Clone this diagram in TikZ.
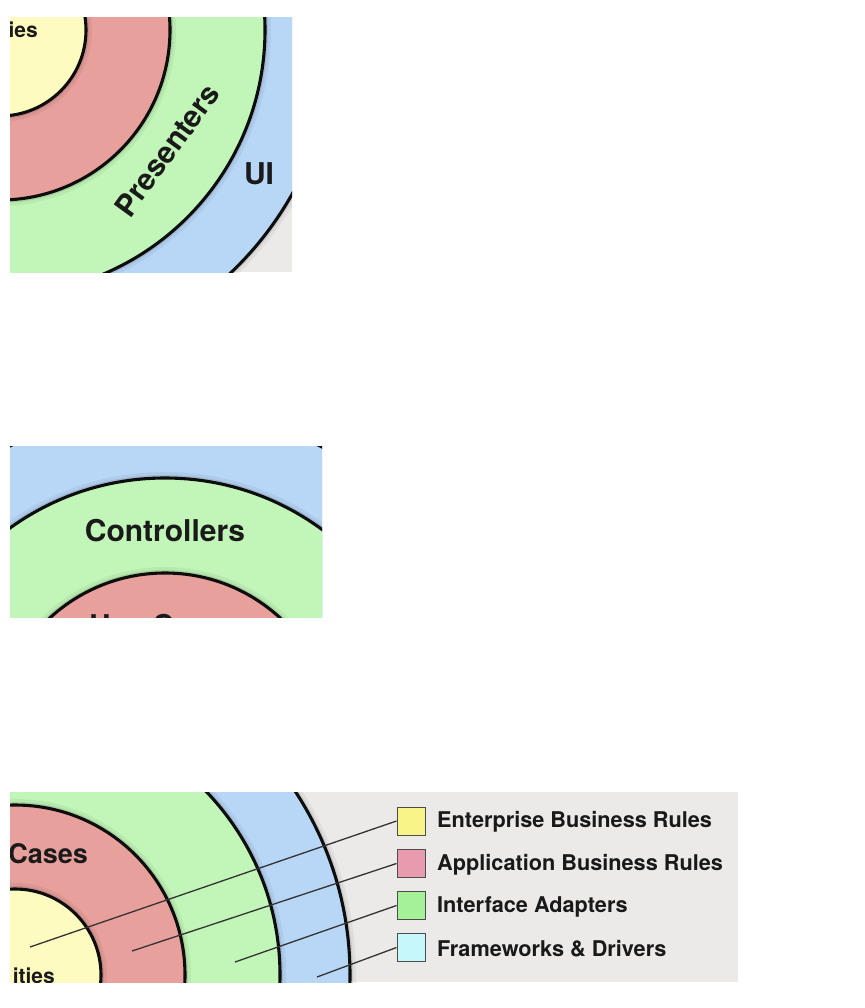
\documentclass[tikz,border=0pt]{standalone}
\usepackage{fontspec}
\setmainfont{TeX Gyre Heros}
\definecolor{blueR}{HTML}{B8D6F6}
\definecolor{greenR}{HTML}{C2F6B8}
\definecolor{redR}{HTML}{E8A09C}
\definecolor{yellowR}{HTML}{FEFBC0}
\definecolor{greyBG}{HTML}{EBEAE9}
\definecolor{txt}{HTML}{1A1A1A}
\definecolor{legY}{HTML}{F8F488}
\definecolor{legR}{HTML}{E89AAE}
\definecolor{legG}{HTML}{A4F198}
\definecolor{legC}{HTML}{C6F8FB}
\newcommand\ringset[2]{%
  \foreach \r/\c in {335/blueR,265/greenR,170/redR,86/yellowR}{%
    \fill[black,opacity=0.05] (#1,#2) circle[radius=\r+6];
    \fill[black,opacity=0.09] (#1,#2) circle[radius=\r+3];
    \fill[\c] (#1,#2) circle[radius=\r];
    \draw[line width=3.1pt,black!95] (#1,#2) circle[radius=\r];
  }}
\tikzset{
  lbl/.style={inner sep=0pt,text=txt,font=\bfseries\fontsize{30}{36}\selectfont},
  slbl/.style={inner sep=0pt,text=txt,font=\bfseries\fontsize{21}{25}\selectfont},
  mlbl/.style={inner sep=0pt,text=txt,font=\bfseries\fontsize{27}{32}\selectfont},
  legbox/.style={draw=black!70,line width=1pt,minimum size=28pt,inner sep=0pt},
  legtxt/.style={inner sep=0pt,anchor=west,text=black!90,font=\bfseries\fontsize{21.7}{26}\selectfont},
  leader/.style={draw=black!80,line width=1.3pt}
}
\begin{document}
\begin{tikzpicture}[x=1pt,y=-1pt]
\useasboundingbox[fill=white] (0,0) rectangle (864,1008);
% ---------- panel 1 ----------
\begin{scope}
  \clip (10,18) rectangle (292,272);
  \fill[greyBG] (10,18) rectangle (292,272);
  \ringset{0}{30}
  \node[slbl,anchor=base east] (ent1) at (38,38) {ies};
  \node[lbl,rotate=54] (pres) at (167,150) {Presenters};
  \node[lbl] (ui) at (259,174) {UI};
\end{scope}
% ---------- panel 2 ----------
\begin{scope}
  \clip (10,446) rectangle (322,617);
  \ringset{165}{743}
  \node[lbl] (ctrl) at (165,531) {Controllers};
  \node[lbl,anchor=base] (uc2) at (165,636) {Use Cases};
\end{scope}
% ---------- panel 3 ----------
\begin{scope}
  \clip (10,792) rectangle (738,982);
  \fill[greyBG] (10,792) rectangle (738,982);
  \ringset{15}{975}
  \node[mlbl,anchor=base east] (uc3) at (88,863) {Cases};
  \node[slbl,anchor=base east] (ent3) at (55,983) {ities};
\end{scope}
% legend
\node[legbox,fill=legY] (bY) at (411,821) {};
\node[legbox,fill=legR] (bR) at (411,863.5) {};
\node[legbox,fill=legG] (bG) at (411,905.5) {};
\node[legbox,fill=legC] (bC) at (411,947.5) {};
\node[legtxt] (tY) at (437,822) {Enterprise Business Rules};
\node[legtxt] (tR) at (437,864.5) {Application Business Rules};
\node[legtxt] (tG) at (437,906.5) {Interface Adapters};
\node[legtxt] (tC) at (437,948.5) {Frameworks \& Drivers};
\coordinate (sY) at (30,947);
\coordinate (sR) at (132,951);
\coordinate (sG) at (235,962);
\coordinate (sC) at (317,977);
\draw[leader] (sY) -- (bY.west);
\draw[leader] (sR) -- (bR.west);
\draw[leader] (sG) -- (bG.west);
\draw[leader] (sC) -- (bC.west);
\end{tikzpicture}
\end{document}
